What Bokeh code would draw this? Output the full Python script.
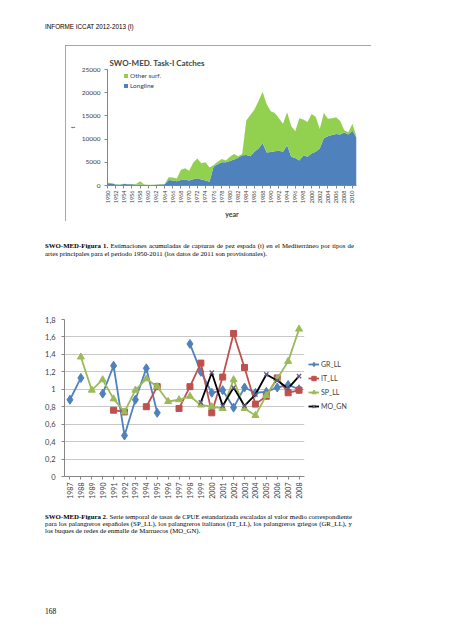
import math
from bokeh.plotting import figure
from bokeh.models import (ColumnDataSource, Range1d, FactorRange, FixedTicker, Legend, LegendItem,
                          Div, Spacer, CustomJSTickFormatter)
from bokeh.layouts import column, row
from bokeh.embed import file_html
from bokeh.resources import INLINE

nan = float("nan")

# ---------------- Figure 1 data: SWO-MED Task-I catches (t) ----------------
years1 = list(range(1950, 2012))
longline = [500, 450, 200, 150, 300, 250, 250, 150, 200, 100,
            100, 100, 150, 200, 250, 1200, 1100, 900, 1200, 1250,
            1100, 1350, 1550, 1300, 1100, 800, 4100, 4600, 5000, 5000,
            5300, 5600, 6000, 6500, 6600, 6300, 7300, 8000, 9100, 7100,
            7200, 7400, 7500, 7300, 8700, 6200, 5900, 5400, 6500, 6200,
            6900, 7300, 8000, 10200, 10600, 10900, 11100, 11000, 11400, 11000,
            11800, 10300]
other_surf = [100, 100, 50, 50, 100, 100, 50, 150, 700, 100,
              50, 50, 50, 100, 100, 600, 600, 600, 2200, 2450,
              2100, 3550, 4250, 3500, 3900, 3100, 300, 500, 700, 400,
              900, 1200, 300, 300, 7400, 8900, 9100, 10200, 11100, 10400,
              8800, 8200, 7000, 6000, 7100, 6600, 5800, 9100, 7700, 7500,
              8500, 7500, 4200, 5400, 3800, 3600, 3600, 2900, 500, 500,
              1500, 200]
y1_ticks = [0, 5000, 10000, 15000, 20000, 25000]
x1_ticks = list(range(1950, 2011, 2))

# ---------------- Figure 2 data: scaled standardized CPUE ----------------
years2 = [str(y) for y in range(1987, 2009)]
gr_ll = [0.88, 1.13, nan, 0.95, 1.27, 0.47, 0.88, 1.24, 0.73, nan, nan,
         1.52, 1.20, 0.96, 0.99, 0.79, 1.02, 0.96, 0.97, 1.02, 1.05, 1.00]
it_ll = [nan, nan, nan, nan, 0.76, 0.74, nan, 0.80, 1.03, nan, 0.78,
         1.03, 1.30, 0.73, 1.14, 1.64, 1.25, 0.83, 0.92, 1.13, 0.96, 0.99]
sp_ll = [nan, 1.37, 0.99, 1.11, 0.89, 0.74, 0.99, 1.12, 1.03, 0.86, 0.88,
         0.92, 0.82, 0.80, 0.78, 1.11, 0.78, 0.70, 0.93, 1.12, 1.32, 1.69]
mo_gn = [nan, nan, nan, nan, nan, nan, nan, nan, nan, nan, nan,
         nan, 0.85, 1.19, 0.81, 1.02, 0.81, 0.94, 1.17, 1.10, 1.01, 1.15]
y2_ticks = [0, 0.2, 0.4, 0.6, 0.8, 1.0, 1.2, 1.4, 1.6, 1.8]

CH_FONT = "Lato"
TXT = "#404040"
AX = "#868686"

# ---------------- Figure 1 ----------------
src1 = ColumnDataSource(dict(year=years1, longline=longline, other=other_surf))
p1 = figure(width=306, height=176, x_range=Range1d(1950, 2011), y_range=Range1d(0, 25000),
            output_backend="svg", toolbar_location=None,
            min_border_left=37, min_border_right=15, min_border_top=24, min_border_bottom=35,
            title="SWO-MED. Task-I Catches")
rs = p1.varea_stack(["longline", "other"], x="year", color=["#4F81BD", "#92D050"], source=src1)
p1.title.text_font = CH_FONT
p1.title.text_font_size = "8px"
p1.title.text_font_style = "bold"
p1.title.align = "left"
p1.title.offset = 2
p1.title.standoff = 3
p1.xgrid.visible = False
p1.ygrid.visible = False
p1.outline_line_color = None
p1.styles = {"outline": "1px solid #8a8a8a", "outline-offset": "-1px"}
for ax in (p1.xaxis[0], p1.yaxis[0]):
    ax.axis_line_color = AX
    ax.major_tick_line_color = AX
    ax.major_tick_out = 3
    ax.major_tick_in = 0
    ax.minor_tick_line_color = None
    ax.major_label_text_font = CH_FONT
    ax.major_label_text_color = TXT
    ax.axis_label_text_font = CH_FONT
    ax.axis_label_text_color = TXT
p1.xaxis.ticker = FixedTicker(ticks=x1_ticks)
p1.xaxis.major_label_orientation = math.pi / 2
p1.xaxis.major_label_text_font_size = "5.5px"
p1.xaxis.major_label_standoff = 2
p1.xaxis.axis_label = "year"
p1.xaxis.axis_label_text_font_style = "bold"
p1.xaxis.axis_label_text_font_size = "7px"
p1.xaxis.axis_label_standoff = 4
p1.yaxis.ticker = FixedTicker(ticks=y1_ticks)
p1.yaxis.major_label_text_font_size = "6.5px"
p1.yaxis.major_label_standoff = 4
p1.yaxis.axis_label = "t"
p1.yaxis.axis_label_text_font_style = "normal"
p1.yaxis.axis_label_text_font_size = "6.5px"
p1.yaxis.axis_label_standoff = 3
leg1 = Legend(items=[LegendItem(label="Other surf.", renderers=[rs[1]]),
                     LegendItem(label="Longline", renderers=[rs[0]])],
              location=(16, 95), margin=0, padding=0, spacing=0,
              label_height=10, glyph_height=5, glyph_width=5, label_standoff=2,
              label_text_font=CH_FONT, label_text_font_size="6.5px", label_text_color=TXT,
              background_fill_alpha=0, border_line_color=None)
p1.add_layout(leg1)

# ---------------- Figure 2 ----------------
src2 = ColumnDataSource(dict(year=years2, gr=gr_ll, it=it_ll, sp=sp_ll, mo=mo_gn))
p2 = figure(width=308, height=190, x_range=FactorRange(factors=years2), y_range=Range1d(0, 1.8),
            output_backend="svg", toolbar_location=None,
            min_border_left=64, min_border_right=4, min_border_top=7, min_border_bottom=26)
p2.outline_line_color = None
p2.xgrid.visible = False
p2.ygrid.ticker = FixedTicker(ticks=y2_ticks)
p2.ygrid.grid_line_color = "#C8C8C8"
p2.ygrid.grid_line_width = 1

# legend panel: a small figure beside the chart whose view shows none of the data,
# so only its legend is visible
lf = figure(width=70, height=190, x_range=FactorRange(factors=years2), y_range=Range1d(10, 11),
            output_backend="svg", toolbar_location=None,
            min_border_left=0, min_border_right=0, min_border_top=0, min_border_bottom=0,
            x_axis_location=None, y_axis_location=None)
lf.outline_line_color = None
lf.xgrid.visible = False
lf.ygrid.visible = False

series = [("gr", "GR_LL", "#4F81BD", "diamond", 9),
          ("it", "IT_LL", "#C0504D", "square", 6),
          ("sp", "SP_LL", "#9BBB59", "triangle", 7)]
items = []
for col, lab, colr, mk, sz in series:
    p2.line("year", col, source=src2, line_color=colr, line_width=1.8)
    p2.scatter("year", col, source=src2, marker=mk, size=sz, fill_color=colr, line_color=colr)
    kl = lf.line("year", col, source=src2, line_color=colr, line_width=1.8)
    ks = lf.scatter("year", col, source=src2, marker=mk, size=sz, fill_color=colr, line_color=colr)
    items.append(LegendItem(label=lab, renderers=[kl, ks]))
p2.line("year", "mo", source=src2, line_color="black", line_width=1.8)
p2.scatter("year", "mo", source=src2, marker="x", size=6, line_color="#6A5A8C", line_width=1.3)
kl = lf.line("year", "mo", source=src2, line_color="black", line_width=1.8)
ks = lf.scatter("year", "mo", source=src2, marker="x", size=6, line_color="#6A5A8C", line_width=1.3)
items.append(LegendItem(label="MO_GN", renderers=[kl, ks]))

for ax in (p2.xaxis[0], p2.yaxis[0]):
    ax.axis_line_color = AX
    ax.major_tick_line_color = AX
    ax.major_tick_out = 3
    ax.major_tick_in = 0
    ax.minor_tick_line_color = None
    ax.major_label_text_font = CH_FONT
    ax.major_label_text_color = TXT
p2.xaxis.major_label_orientation = math.pi / 2
p2.xaxis.major_label_text_font_size = "7px"
p2.xaxis.major_label_standoff = 3
p2.yaxis.ticker = FixedTicker(ticks=y2_ticks)
p2.yaxis.major_label_text_font_size = "7.5px"
p2.yaxis.major_label_standoff = 6
p2.yaxis.formatter = CustomJSTickFormatter(
    code="return tick.toFixed(1).replace('.', ',').replace(/,0$/, '');")

leg2 = Legend(items=items, location=(0, 63), margin=0, padding=5, spacing=0,
              label_height=14, glyph_height=14, glyph_width=11, label_standoff=2,
              label_text_font=CH_FONT, label_text_font_size="7px", label_text_color=TXT,
              background_fill_alpha=0, border_line_color=None)
lf.add_layout(leg2)

# ---------------- Page texts ----------------
SERIF = "font-family:'Liberation Serif';color:#000;"
hdr = Div(text='<div style="font-family:\'Liberation Sans\';font-size:6.3px;line-height:8px;'
               'color:#000;padding-top:23px;padding-left:45px;">INFORME ICCAT 2012-2013 (I)</div>',
          width=436, height=45, margin=0)
just = "text-align:justify;text-align-last:justify;white-space:nowrap;"
last = "white-space:nowrap;"
cap1 = Div(text=f'<div style="{SERIF}font-size:6.8px;line-height:7.7px;padding-top:21px;'
                f'padding-left:45px;width:354px;">'
                f'<div style="{just}"><b>SWO-MED-Figura 1.</b> Estimaciones acumuladas de capturas de pez '
                f'espada (t) en el Mediterráneo por tipos de</div>'
                f'<div style="{last}">artes principales para el periodo 1950-2011 (los datos de 2011 son provisionales).</div>'
                f'</div>', width=436, height=91, margin=0)
cap2 = Div(text=f'<div style="{SERIF}font-size:6.8px;line-height:7.2px;padding-top:10.5px;'
                f'padding-left:45px;width:352px;">'
                f'<div style="{just}"><b>SWO-MED-Figura 2</b>. Serie temporal de tasas de CPUE estandarizada '
                f'escaladas al valor medio correspondiente</div>'
                f'<div style="{just}">para los palangreros españoles (SP_LL), los palangreros italianos (IT_LL), '
                f'los palangreros griegos (GR_LL), y</div>'
                f'<div style="{last}">los buques de redes de enmalle de Marruecos (MO_GN).</div>'
                f'</div>', width=436, height=100, margin=0)
pnum = Div(text=f'<div style="{SERIF}font-size:7.5px;line-height:9px;padding-top:3.5px;'
                f'padding-left:45px;">168</div>', width=436, height=16, margin=0)

top_row = row(Spacer(width=65, height=176, margin=0), p1, spacing=0, margin=0)
mid_row = row(p2, lf, spacing=0, margin=0)
page = column(hdr, top_row, cap1, mid_row, cap2, pnum, spacing=0, margin=0)

open("out.html", "w").write(file_html(page, INLINE, "SWO-MED"))
